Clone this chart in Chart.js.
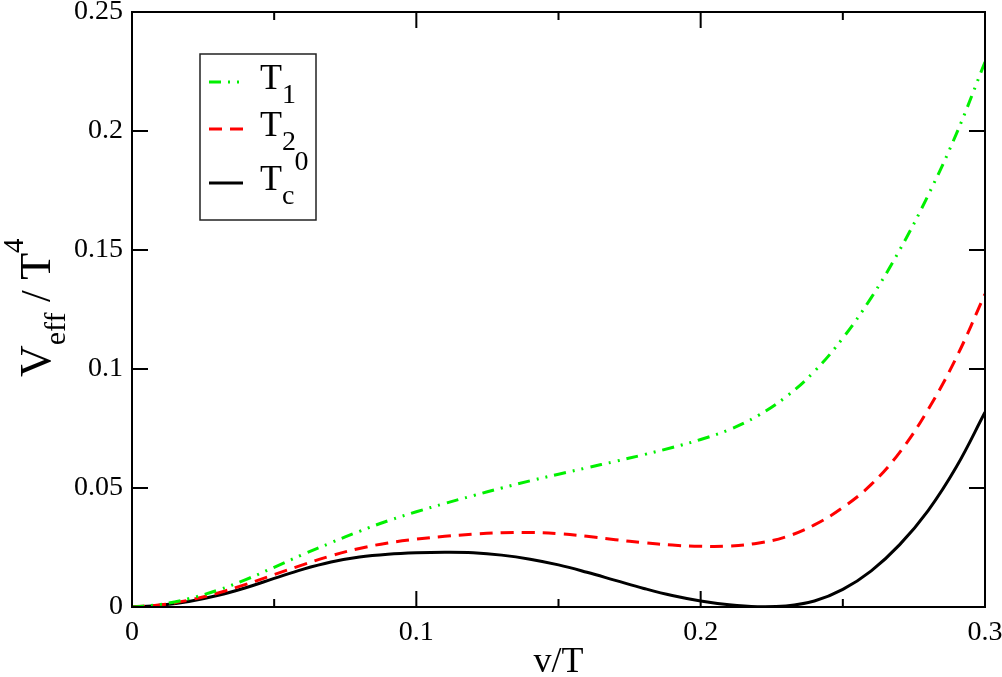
<!DOCTYPE html>
<html>
<head>
<meta charset="utf-8">
<title>V_eff / T^4</title>
<script src="https://cdn.jsdelivr.net/npm/chart.js@4.4.1/dist/chart.umd.min.js"></script>
<style>
    html, body { margin: 0; padding: 0; background: #fff; }
    #wrap { width: 1002px; height: 677px; position: relative; }
</style>
</head>
<body>
<div id="wrap"><canvas id="veffChart"></canvas></div>
<script>
// v/T sample points
const vOverT = [0, 0.01, 0.02, 0.03, 0.04, 0.05, 0.06, 0.07, 0.08, 0.09, 0.10,
    0.11, 0.12, 0.13, 0.14, 0.15, 0.16, 0.17, 0.18, 0.19, 0.20,
    0.21, 0.22, 0.23, 0.24, 0.25, 0.26, 0.27, 0.28, 0.29, 0.30];

const veffT1 = [0, 0.0011, 0.0035, 0.0070, 0.0115, 0.0167, 0.0220, 0.0270, 0.0318, 0.0362, 0.0400,
    0.0435, 0.0468, 0.0500, 0.0530, 0.0558, 0.0585, 0.0612, 0.0640, 0.0670, 0.0704,
    0.0745, 0.0803, 0.0883, 0.0990, 0.1130, 0.1300, 0.1500, 0.1730, 0.1990, 0.2290];

const veffT2 = [0, 0.0009, 0.0029, 0.0058, 0.0095, 0.0136, 0.0177, 0.0215, 0.0246, 0.0269, 0.0285,
    0.0297, 0.0306, 0.0312, 0.0313, 0.0308, 0.0297, 0.0283, 0.0270, 0.0260, 0.0255,
    0.0256, 0.0268, 0.0295, 0.0345, 0.0418, 0.0515, 0.0650, 0.0830, 0.1050, 0.1315];

const veffTc = [0, 0.0007, 0.0023, 0.0048, 0.0081, 0.0120, 0.0158, 0.0189, 0.0210, 0.0222, 0.0228,
    0.0230, 0.0228, 0.0218, 0.0201, 0.0177, 0.0146, 0.0112, 0.0078, 0.0048, 0.0025,
    0.0009, 0.0001, 0.0004, 0.0025, 0.0074, 0.0152, 0.0262, 0.0405, 0.0590, 0.0818];

const xMajorTicks = [0, 0.1, 0.2, 0.3];
const xMinorTicks = [0.05, 0.15, 0.25];
const yMajorTicks = [0, 0.05, 0.1, 0.15, 0.2, 0.25];

// legend entries: main letter, subscript, superscript
const legendLabels = [
    ['T', '1', ''],
    ['T', '2', ''],
    ['T', 'c', '0']
];

const SERIF = '"Liberation Serif", "Times New Roman", serif';

function toPoints(ys) {
    return vOverT.map((x, i) => ({ x: x, y: ys[i] }));
}

// frame, inward ticks on all four sides, y title and legend
const xmgrDecor = {
    id: 'xmgrDecor',
    afterDraw(chart) {
        const ctx = chart.ctx;
        const area = chart.chartArea;
        const xs = chart.scales.x;
        const ys = chart.scales.y;
        ctx.save();
        ctx.strokeStyle = '#000';
        ctx.lineWidth = 2;
        ctx.strokeRect(area.left, area.top, area.right - area.left, area.bottom - area.top);

        ctx.beginPath();
        xMajorTicks.forEach(v => {
            const px = xs.getPixelForValue(v);
            ctx.moveTo(px, area.bottom); ctx.lineTo(px, area.bottom - 16);
            ctx.moveTo(px, area.top); ctx.lineTo(px, area.top + 16);
        });
        xMinorTicks.forEach(v => {
            const px = xs.getPixelForValue(v);
            ctx.moveTo(px, area.bottom); ctx.lineTo(px, area.bottom - 8);
            ctx.moveTo(px, area.top); ctx.lineTo(px, area.top + 8);
        });
        yMajorTicks.forEach(v => {
            const py = ys.getPixelForValue(v);
            ctx.moveTo(area.left, py); ctx.lineTo(area.left + 16, py);
            ctx.moveTo(area.right, py); ctx.lineTo(area.right - 16, py);
        });
        ctx.stroke();

        // y axis title: V_eff / T^4, rotated
        ctx.save();
        ctx.translate(50, 377);
        ctx.rotate(-Math.PI / 2);
        ctx.fillStyle = '#000';
        ctx.textBaseline = 'alphabetic';
        ctx.textAlign = 'left';
        let cx = 0;
        const part = (txt, size, dy) => {
            ctx.font = size + 'px ' + SERIF;
            ctx.fillText(txt, cx, dy);
            cx += ctx.measureText(txt).width;
        };
        part('V', 44, 0);
        part('eff', 30, 15);
        part(' / ', 42, 0);
        part('T', 44, 0);
        part('4', 29, -27);
        ctx.restore();

        // legend box
        const box = { left: 200, top: 54, width: 116, height: 166 };
        ctx.lineWidth = 1.5;
        ctx.strokeStyle = '#222';
        ctx.strokeRect(box.left, box.top, box.width, box.height);
        const rowY = [82, 129, 183];
        chart.data.datasets.forEach((ds, i) => {
            ctx.save();
            ctx.strokeStyle = ds.borderColor;
            ctx.lineWidth = ds.borderWidth;
            ctx.setLineDash(ds.borderDash || []);
            ctx.beginPath();
            ctx.moveTo(209, rowY[i]);
            ctx.lineTo(243, rowY[i]);
            ctx.stroke();
            ctx.restore();

            const lab = legendLabels[i];
            const base = rowY[i] + 7;
            ctx.fillStyle = '#000';
            ctx.font = '36px ' + SERIF;
            ctx.fillText(lab[0], 260, base);
            const tw = ctx.measureText(lab[0]).width;
            ctx.font = '28px ' + SERIF;
            ctx.fillText(lab[1], 260 + tw, base + 14);
            if (lab[2]) {
                const sw = ctx.measureText(lab[1]).width;
                ctx.fillText(lab[2], 260 + tw + sw, base - 20);
            }
        });
        ctx.restore();
    }
};

function fmt(value) {
    return String(parseFloat(Number(value).toFixed(2)));
}

document.addEventListener('DOMContentLoaded', function() {
    const ctx = document.getElementById('veffChart').getContext('2d');
    new Chart(ctx, {
        type: 'line',
        data: {
            datasets: [{
                label: 'T1',
                data: toPoints(veffT1),
                borderColor: '#00f000',
                borderWidth: 3,
                borderDash: [12, 7, 2, 7, 2, 7],
                pointRadius: 0,
                tension: 0.4,
                fill: false
            }, {
                label: 'T2',
                data: toPoints(veffT2),
                borderColor: '#ff0000',
                borderWidth: 3,
                borderDash: [13, 8],
                pointRadius: 0,
                tension: 0.4,
                fill: false
            }, {
                label: 'Tc0',
                data: toPoints(veffTc),
                borderColor: '#000000',
                borderWidth: 3,
                pointRadius: 0,
                tension: 0.4,
                fill: false
            }]
        },
        options: {
            responsive: true,
            maintainAspectRatio: false,
            animation: false,
            layout: {
                padding: { top: 12, right: 17, left: 0, bottom: 0 }
            },
            plugins: {
                legend: { display: false },
                tooltip: { enabled: false }
            },
            scales: {
                x: {
                    type: 'linear',
                    min: 0,
                    max: 0.3,
                    grid: { display: false, drawTicks: false },
                    border: { display: false },
                    afterBuildTicks: function(scale) {
                        scale.ticks = xMajorTicks.map(v => ({ value: v }));
                    },
                    afterFit: function(scale) {
                        scale.height = 70;
                        scale.paddingLeft = 0;
                        scale.paddingRight = 0;
                    },
                    ticks: {
                        padding: 9,
                        color: '#000',
                        maxRotation: 0,
                        font: { family: SERIF, size: 28 },
                        callback: fmt
                    },
                    title: {
                        display: true,
                        text: 'v/T',
                        color: '#000',
                        padding: { top: 0, bottom: 0 },
                        font: { family: SERIF, size: 36, lineHeight: 0.8 }
                    }
                },
                y: {
                    type: 'linear',
                    min: 0,
                    max: 0.25,
                    grid: { display: false, drawTicks: false },
                    border: { display: false },
                    afterBuildTicks: function(scale) {
                        scale.ticks = yMajorTicks.map(v => ({ value: v }));
                    },
                    afterFit: function(scale) {
                        scale.width = 132;
                        scale.paddingTop = 0;
                        scale.paddingBottom = 0;
                    },
                    ticks: {
                        padding: 9,
                        color: '#000',
                        font: { family: SERIF, size: 28 },
                        callback: fmt
                    }
                }
            }
        },
        plugins: [xmgrDecor]
    });
});
</script>
</body>
</html>
